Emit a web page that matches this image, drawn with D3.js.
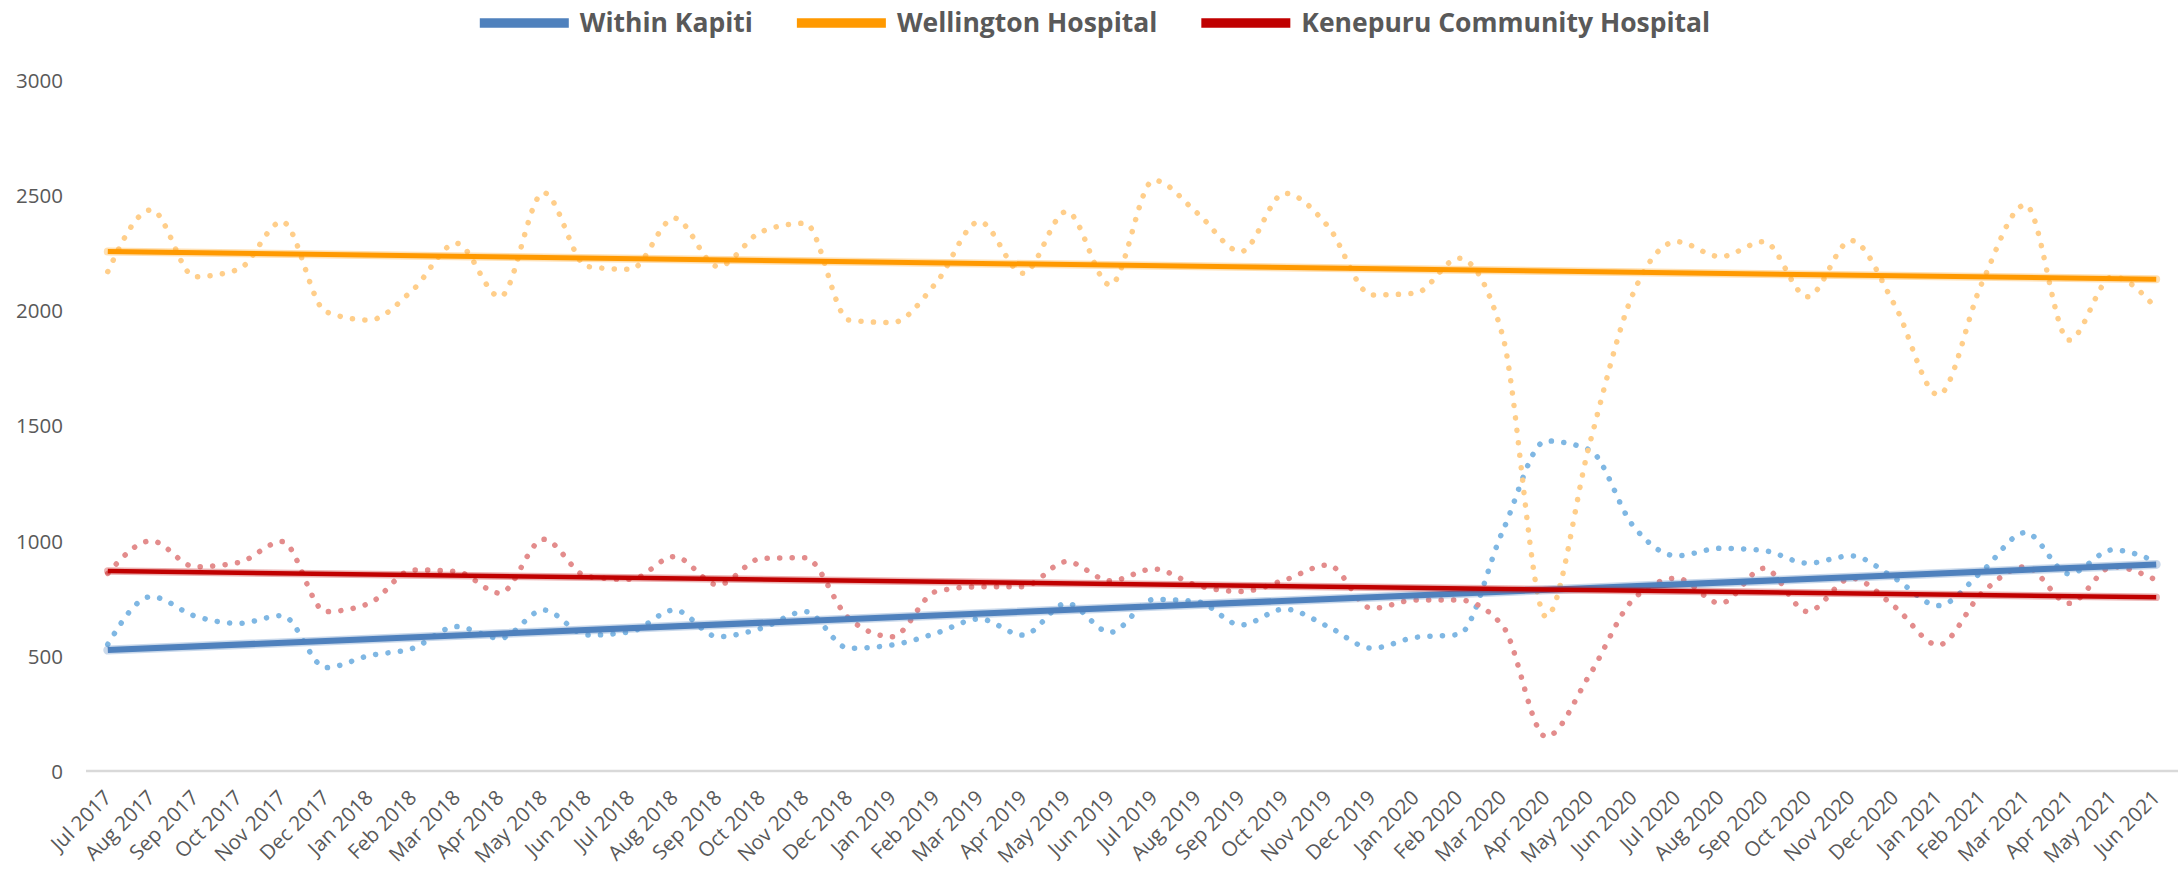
<!DOCTYPE html>
<html>
<head>
<meta charset="utf-8">
<script src="https://cdn.jsdelivr.net/npm/d3@7"></script>
<style>
  body { margin: 0; background: #fff; }
  text { font-family: 'Open Sans', sans-serif; }
</style>
</head>
<body>
<div class="container"></div>
<script>
var months = ['Jul 2017','Aug 2017','Sep 2017','Oct 2017','Nov 2017','Dec 2017',
  'Jan 2018','Feb 2018','Mar 2018','Apr 2018','May 2018','Jun 2018',
  'Jul 2018','Aug 2018','Sep 2018','Oct 2018','Nov 2018','Dec 2018',
  'Jan 2019','Feb 2019','Mar 2019','Apr 2019','May 2019','Jun 2019',
  'Jul 2019','Aug 2019','Sep 2019','Oct 2019','Nov 2019','Dec 2019',
  'Jan 2020','Feb 2020','Mar 2020','Apr 2020','May 2020','Jun 2020',
  'Jul 2020','Aug 2020','Sep 2020','Oct 2020','Nov 2020','Dec 2020',
  'Jan 2021','Feb 2021','Mar 2021','Apr 2021','May 2021','Jun 2021'];

var kapiti = [550, 757, 673, 641, 675, 449, 501, 533, 627, 576, 699, 590,
  605, 699, 583, 620, 692, 533, 547, 598, 660, 590, 728, 602,
  745, 735, 634, 703, 627, 533, 580, 593, 1039, 1433, 1394, 1064,
  934, 967, 957, 902, 934, 837, 718, 866, 1035, 856, 960, 909];

var wellington = [2168, 2436, 2146, 2178, 2385, 1994, 1958, 2089, 2291, 2059, 2511, 2190,
  2178, 2400, 2190, 2342, 2378, 1958, 1947, 2118, 2385, 2161, 2429, 2110,
  2565, 2422, 2255, 2508, 2364, 2067, 2074, 2226, 1893, 670, 1420, 2074,
  2298, 2233, 2298, 2059, 2303, 2023, 1633, 2118, 2458, 1871, 2146, 2009];

var kenepuru = [858, 999, 887, 905, 996, 692, 728, 873, 866, 772, 1006, 844,
  832, 931, 808, 923, 926, 663, 583, 779, 800, 800, 909, 826,
  877, 805, 779, 829, 894, 706, 742, 742, 632, 149, 417, 745,
  837, 728, 880, 692, 837, 713, 547, 772, 887, 728, 887, 829];

// linear trendlines, value at first and last month
var kapitiTrend = [525, 897];
var wellingtonTrend = [2255, 2135];
var kenepuruTrend = [868, 754];

var yTicks = [0, 500, 1000, 1500, 2000, 2500, 3000];

var seriesNames = ['Within Kapiti', 'Wellington Hospital', 'Kenepuru Community Hospital'];
var trendColors = ['#4F81BD', '#FF9900', '#C00000'];
var dotColors = ['#7FB7E3', '#FFCE8A', '#E38C8C'];

buildChart();

function buildChart() {

  /* ===== SET UP CHART =====*/

  var w = 2178;
  var h = 872;

  var svg = d3.select('.container')
    .append('svg')
    .attr('width', w)
    .attr('height', h);

  var xScale = d3.scaleBand()
    .domain(months)
    .range([86, 2178]);

  var yScale = d3.scaleLinear()
    .domain([0, 3000])
    .range([771, 80]);

  function xPos(i) {
    return xScale(months[i]) + xScale.bandwidth() / 2;
  }

  /* ===== AXES =====*/

  var yAxis = d3.axisLeft(yScale)
    .tickValues(yTicks)
    .tickFormat(d3.format('d'))
    .tickSize(0)
    .tickPadding(0);

  var yG = svg.append('g')
    .attr('transform', 'translate(63,0)')
    .call(yAxis);
  yG.select('.domain').remove();
  yG.selectAll('text')
    .attr('dy', '0.36em')
    .style('font-family', "'Open Sans', sans-serif")
    .style('font-size', '20.5px')
    .attr('fill', '#595959');

  svg.append('line')
    .attr('x1', 86)
    .attr('x2', 2178)
    .attr('y1', yScale(0))
    .attr('y2', yScale(0))
    .attr('stroke', '#D9D9D9')
    .attr('stroke-width', 2.5);

  var xAxis = d3.axisBottom(xScale)
    .tickSize(0);

  var xG = svg.append('g')
    .attr('transform', 'translate(0,799)')
    .call(xAxis);
  xG.select('.domain').remove();
  xG.selectAll('text')
    .attr('x', 0)
    .attr('y', 0)
    .attr('dy', 0)
    .attr('transform', 'translate(5,0) rotate(-45)')
    .style('text-anchor', 'end')
    .style('font-family', "'Open Sans', sans-serif")
    .style('font-size', '20.5px')
    .attr('fill', '#595959');

  /* ===== DOTTED SERIES =====*/

  var line = d3.line()
    .x(function(d, i) { return xPos(i); })
    .y(function(d) { return yScale(d); })
    .curve(d3.curveMonotoneX);

  var allSeries = [kapiti, wellington, kenepuru];
  var allTrends = [kapitiTrend, wellingtonTrend, kenepuruTrend];
  var trendWidths = [6, 5, 4.5];

  allSeries.forEach(function(s, k) {
    svg.append('path')
      .datum(s)
      .attr('d', line)
      .attr('fill', 'none')
      .attr('stroke', dotColors[k])
      .attr('stroke-width', 5.5)
      .attr('stroke-linecap', 'round')
      .attr('stroke-dasharray', '0.1 12.4');
  });

  /* ===== TRENDLINES =====*/

  var n = months.length - 1;
  allTrends.forEach(function(t, k) {
    var pts = [[xPos(0), yScale(t[0])], [xPos(n), yScale(t[1])]];
    // soft glow under the line
    svg.append('line')
      .attr('x1', pts[0][0]).attr('y1', pts[0][1])
      .attr('x2', pts[1][0]).attr('y2', pts[1][1])
      .attr('stroke', trendColors[k])
      .attr('stroke-opacity', 0.3)
      .attr('stroke-width', trendWidths[k] + 3)
      .attr('stroke-linecap', 'round');
    svg.append('line')
      .attr('x1', pts[0][0]).attr('y1', pts[0][1])
      .attr('x2', pts[1][0]).attr('y2', pts[1][1])
      .attr('stroke', trendColors[k])
      .attr('stroke-width', trendWidths[k]);
  });

  /* ===== LEGEND =====*/

  var legend = svg.append('g');
  var lx = 0;
  seriesNames.forEach(function(name, k) {
    var item = legend.append('g').attr('transform', 'translate(' + lx + ',0)');
    item.append('line')
      .attr('x1', 0).attr('x2', 89)
      .attr('y1', 23).attr('y2', 23)
      .attr('stroke', trendColors[k])
      .attr('stroke-width', 9.5);
    var t = item.append('text')
      .attr('x', 100)
      .attr('y', 32)
      .style('font-family', "'Open Sans', sans-serif")
      .style('font-size', '26.5px')
      .style('font-weight', 'bold')
      .attr('fill', '#595959')
      .text(name);
    lx += 100 + t.node().getComputedTextLength() + 44;
  });
  var legendW = lx - 44;
  legend.attr('transform', 'translate(' + (1095 - legendW / 2) + ',0)');
}
</script>
</body>
</html>
